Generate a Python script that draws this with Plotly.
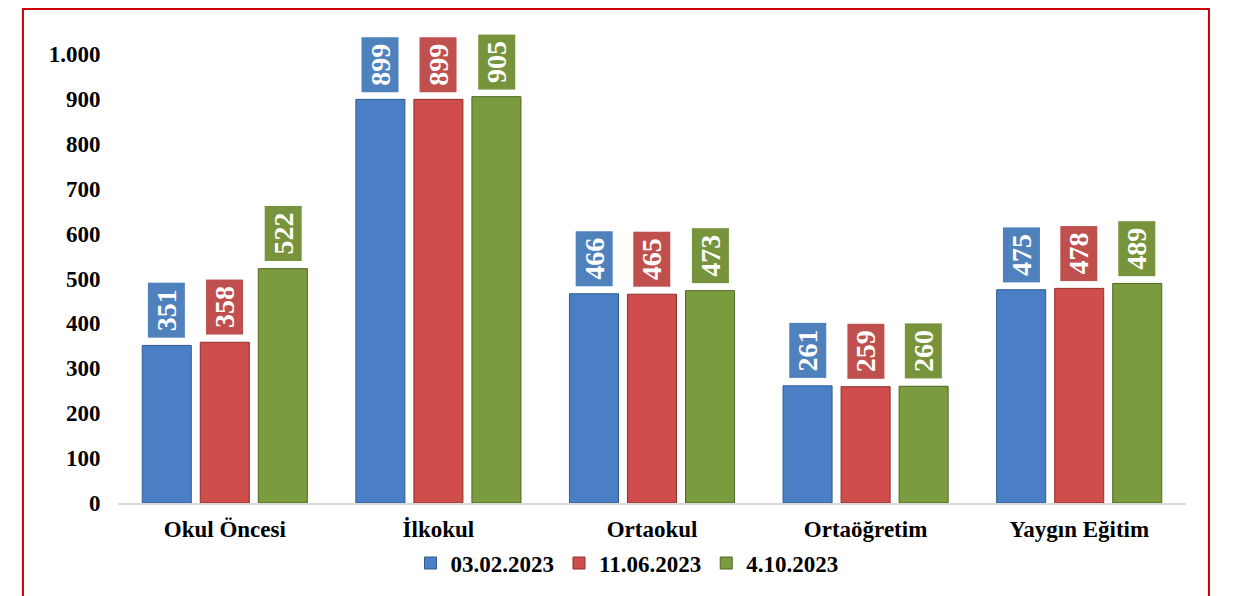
import plotly.graph_objects as go

categories = ["Okul Öncesi", "İlkokul", "Ortaokul", "Ortaöğretim", "Yaygın Eğitim"]
series_names = ["03.02.2023", "11.06.2023", "4.10.2023"]
values_0302 = [351, 899, 466, 261, 475]
values_1106 = [358, 899, 465, 259, 478]
values_0410 = [522, 905, 473, 260, 489]
y_ticks = [0, 100, 200, 300, 400, 500, 600, 700, 800, 900, 1000]
y_tick_labels = ["0", "100", "200", "300", "400", "500", "600", "700", "800", "900", "1.000"]

series_values = [values_0302, values_1106, values_0410]
bar_colors = ["#4A7FC6", "#CF4D4B", "#7B9B3F"]
box_colors = ["#4F81BD", "#C0504D", "#77933C"]
line_colors = ["#2F5A8E", "#8E2F2D", "#4F6626"]

FONT = "Liberation Serif"
BARGAP = 0.185
GROUPGAP = 0.155

fig = go.Figure()
for name, vals, c, lc in zip(series_names, series_values, bar_colors, line_colors):
    fig.add_trace(go.Bar(
        x=list(range(len(categories))), y=vals, name=f"<b>{name}</b>",
        marker=dict(color=c, line=dict(color=lc, width=1)),
    ))

slot = (1 - BARGAP) / len(series_names)
annotations = []
for j, (vals, bc) in enumerate(zip(series_values, box_colors)):
    off = (j - (len(series_names) - 1) / 2) * slot
    for i, v in enumerate(vals):
        annotations.append(dict(
            x=i + off, y=v, xref="x", yref="y",
            text=f"<b>{v}</b>", showarrow=False,
            textangle=-90, yanchor="bottom", xanchor="center", yshift=7,
            bgcolor=bc, width=52, height=34, borderpad=1,
            font=dict(family=FONT, size=28, color="white"),
        ))

fig.update_layout(
    width=1234, height=596,
    paper_bgcolor="white", plot_bgcolor="white",
    barmode="group", bargap=BARGAP, bargroupgap=GROUPGAP,
    margin=dict(l=110, r=56, t=22, b=101),
    font=dict(family=FONT, size=23, color="black"),
    showlegend=True,
    legend=dict(orientation="h", x=0.4766, xanchor="center", y=-0.127, yanchor="middle",
                font=dict(family=FONT, size=23, color="black"),
                itemwidth=30, traceorder="normal"),
    annotations=annotations,
    shapes=[dict(type="rect", xref="paper", yref="paper",
                 x0=-0.089, x1=1.0215, y0=-0.25, y1=1.0444,
                 line=dict(color="#CC0000", width=2), fillcolor="rgba(0,0,0,0)",
                 layer="below")],
)
fig.update_xaxes(
    tickmode="array", tickvals=list(range(len(categories))),
    ticktext=[f"<b>{c}</b>" for c in categories],
    range=[-0.5, len(categories) - 0.5],
    showgrid=False, zeroline=False, showline=True, linecolor="#D9D9D9", linewidth=2,
    ticks="outside", ticklen=4, tickcolor="rgba(0,0,0,0)",
    tickfont=dict(family=FONT, size=23, color="black"),
)
fig.update_yaxes(
    range=[0, 1053.5], tickmode="array", tickvals=y_ticks,
    ticktext=[f"<b>{t}</b>" for t in y_tick_labels],
    showgrid=False, zeroline=False, showline=False,
    ticks="outside", ticklen=12, tickcolor="rgba(0,0,0,0)",
    tickfont=dict(family=FONT, size=23, color="black"),
)

fig.write_html("out.html")
